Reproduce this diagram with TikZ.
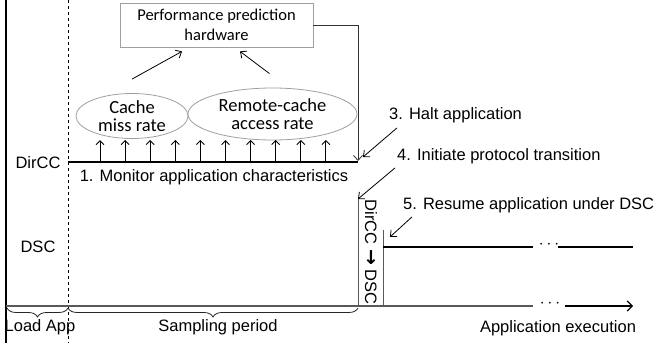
\documentclass[tikz,border=0pt]{standalone}
\usepackage{fontspec}
\setmainfont{Liberation Sans}
\newfontfamily\calfont{Carlito}
\newfontfamily\symfont{DejaVu Sans}
\usetikzlibrary{arrows, arrows.meta, shapes.geometric, decorations.pathreplacing}

\begin{document}
\begin{tikzpicture}[x=1pt, y=-1pt,
        lbl/.style={font=\fontsize{16.5}{19}\selectfont, inner sep=0pt},
        hwbox/.style={draw=gray!75, line width=0.8pt, align=center, minimum width=193pt,
            minimum height=44pt, inner sep=0pt, font=\calfont\fontsize{16.5}{20}\selectfont},
        rate/.style={ellipse, draw=gray!75, line width=0.8pt, align=center, inner sep=-5pt,
            font=\calfont\fontsize{18.5}{18}\selectfont},
        conn/.style={-{Straight Barb[length=5pt,width=9pt]}, line width=0.8pt},
        tick/.style={-{Straight Barb[length=4pt,width=8pt]}, line width=0.9pt},
        level/.style={line width=2.6pt},
        axis/.style={gray!70!black, line width=1.2pt},
        dots/.style={inner sep=0pt, font=\fontsize{17}{17}\selectfont},
        brace/.style={decorate, decoration={brace, mirror, amplitude=9pt}, line width=0.8pt, gray!30!black}]
        \useasboundingbox (0,0) rectangle (657,343);
        \draw[line width=1.5pt] (6,0) -- (6,343);
        \draw[dashed, line width=0.8pt] (68,0) -- (68,343);

        \node[hwbox] (hw) at (216.5,25) {Performance prediction\\hardware};
        \node[rate, minimum width=112pt, minimum height=45pt] (miss) at (132,116) {Cache\\miss rate};
        \node[rate, minimum width=169pt, minimum height=52pt] (remote) at (272.5,114) {Remote-cache\\access rate};
        \draw[conn] ([yshift=14pt]miss.north) -- ([xshift=-34.5pt,yshift=-4pt]hw.south);
        \draw[conn] ([xshift=-3pt,yshift=14pt]remote.north) -- ([xshift=23.5pt,yshift=-4pt]hw.south);

        \coordinate (dir0) at (68,162);
        \coordinate (dir1) at (358,162);
        \foreach \i in {0,...,9}
            \draw[tick] (100+25.1*\i,162) -- (100+25.1*\i,140);
        \draw[level] (dir0) -- (dir1);
        \draw[conn, gray!40!black] (hw.east) -| ([yshift=1pt]dir1);

        \node[lbl] (dircc) at (38,163) {DirCC};
        \node[lbl] (dsc) at (38,247) {DSC};
        \node[lbl] (monitor) at (214,177) {1. Monitor application characteristics};

        \node[lbl, anchor=west] (haltlbl) at (389,115) {3. Halt application};
        \draw[conn] ([xshift=8pt,yshift=-5pt]haltlbl.south west) -- ([xshift=5pt,yshift=5pt]dir1);

        \coordinate (tr0) at (358,199);
        \coordinate (tr1) at (383,230);
        \coordinate (axend) at (358,306);
        \node[lbl, anchor=west] (initlbl) at (397,156) {4. Initiate protocol transition};
        \draw[conn] ([xshift=-2pt,yshift=-4pt]initlbl.south west) -- (tr0);
        \draw[axis, line width=0.9pt] (tr0) -- (axend);
        \draw[axis, line width=0.9pt] (tr1) -- (tr1 |- axend);
        \node[lbl, rotate=-90] (trans) at (371,252) {DirCC {\symfont\bfseries\fontsize{19}{19}\selectfont →} DSC};

        \coordinate (dsc0) at (383,247);
        \node[lbl, anchor=west] (resumelbl) at (403,205) {5. Resume application under DSC};
        \draw[conn] ([xshift=9pt,yshift=-4pt]resumelbl.south west) -- ([xshift=7pt,yshift=10pt]dsc0);
        \draw[level] (dsc0) -- (533,247);
        \node[dots] (dscdots) at (549,245) {$\cdots$};
        \draw[level] (558,247) -- (633,247);

        \coordinate (ax0) at (6,306);
        \draw[axis] (ax0) -- (533,306);
        \node[dots] (axdots) at (550,304) {$\cdots$};
        \draw[line width=1.2pt, -{Straight Barb[length=5pt,width=10pt]}] (565,306) -- (633,306);

        \draw[brace] (7,308) -- (68,308);
        \draw[brace] (68,308) -- (358,308);
        \node[lbl] (loadlbl) at (40,327) {Load App};
        \node[lbl] (samplbl) at (218,327) {Sampling period};
        \node[lbl] (execlbl) at (558,328) {Application execution};
\end{tikzpicture}
\end{document}
